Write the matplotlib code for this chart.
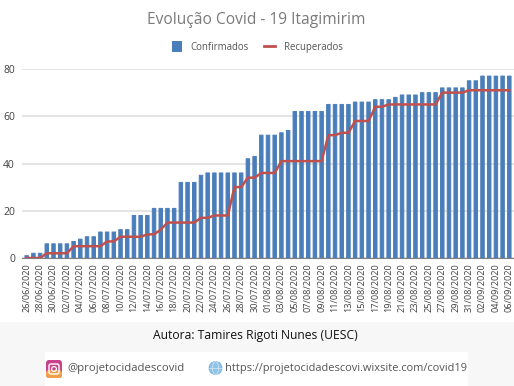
import matplotlib
matplotlib.use("Agg")
import matplotlib.pyplot as plt
from matplotlib.patches import Rectangle, FancyBboxPatch, Circle, Ellipse
from matplotlib.lines import Line2D
from matplotlib.patches import Patch

W, H = 514, 386

tick_labels = ["26/06/2020","28/06/2020","30/06/2020","02/07/2020","04/07/2020","06/07/2020","08/07/2020",
 "10/07/2020","12/07/2020","14/07/2020","16/07/2020","18/07/2020","20/07/2020","22/07/2020","24/07/2020",
 "26/07/2020","28/07/2020","30/07/2020","01/08/2020","03/08/2020","05/08/2020","07/08/2020","09/08/2020",
 "11/08/2020","13/08/2020","15/08/2020","17/08/2020","19/08/2020","21/08/2020","23/08/2020","25/08/2020",
 "27/08/2020","29/08/2020","31/08/2020","02/09/2020","04/09/2020","06/09/2020"]

confirmados = [1,2,2,6,6,6,6,7,8,9,9,11,11,11,12,12,18,18,18,21,21,21,21,
 32,32,32,35,36,36,36,36,36,36,42,43,52,52,52,53,54,62,62,62,62,62,65,65,65,65,
 66,66,66,67,67,67,68,69,69,69,70,70,70,72,72,72,72,75,75,77,77,77,77,77]

recuperados = [0,0,0,2,2,2,2,5,5,5,5,5,7,7,9,9,9,9,10,10,12,15,15,
 15,15,15,17,17,18,18,18,30,30,34,34,36,36,36,41,41,41,41,41,41,41,52,52,53,53,
 58,58,58,64,64,65,65,65,65,65,65,65,65,70,70,70,70,71,71,71,71,71,71,71]

positions = list(range(len(confirmados)))
tick_positions = positions[::2]

def fx(p): return p / W
def fy(p): return 1 - p / H

fig = plt.figure(figsize=(W / 100, H / 100), dpi=100, facecolor="white")
fam = ["Open Sans", "DejaVu Sans"]

# bottom strip and white social box
fig.patches.append(Rectangle((0, 0), 1, fy(322), transform=fig.transFigure, fc="#f7f7f7", ec="none", zorder=-2))
fig.patches.append(Rectangle((fx(45), 0), (468 - 45) / W, (386 - 352) / H, transform=fig.transFigure, fc="#ffffff", ec="none", zorder=-1))

ax = fig.add_axes([fx(22), fy(258), (514 - 22) / W, (258 - 69) / H])
ax.set_facecolor("none")
bars = ax.bar(positions, confirmados, width=0.52, color="#4a7ebb", edgecolor="#4a7ebb", linewidth=0.7,
              zorder=2, label="Confirmados")
for b in bars:
    b.set_joinstyle("round")
    b.set_snap(False)
ax.plot(positions, recuperados, color="#c0504d", lw=1.8, zorder=3, label="Recuperados")
ax.set_xlim(-0.7, 72.7)
ax.set_ylim(0, 80)
ax.set_yticks([0, 20, 40, 60, 80])
ax.set_xticks(tick_positions)
ax.set_xticklabels(tick_labels, rotation=90, fontsize=6.6, color="#404040", family=fam)
ax.tick_params(axis="x", length=0, pad=4)
ax.tick_params(axis="y", length=0, pad=5, labelsize=7.5, labelcolor="#404040")
for t in ax.get_yticklabels():
    t.set_family(fam)
ax.grid(axis="y", color="#dcdcdc", lw=1.1, zorder=0)
ax.set_axisbelow(True)
for s in ["top", "right", "left"]:
    ax.spines[s].set_visible(False)
ax.spines["bottom"].set_color("#7f7f7f")
ax.spines["bottom"].set_linewidth(0.8)

fig.text(fx(256), fy(20), "Evolução Covid - 19 Itagimirim", ha="center", va="center",
         fontsize=11.2, color="#7a7a7a", family=fam)

handles = [Patch(fc="#4a7ebb", ec="none"), Line2D([0], [0], color="#c0504d", lw=2)]
fig.legend(handles, ["Confirmados", "Recuperados"], loc="center", bbox_to_anchor=(fx(257), fy(47)),
           ncol=2, frameon=False, prop={"family": fam, "size": 6.9}, labelcolor="#555555",
           handlelength=1.1, handleheight=1.3, columnspacing=1.6, handletextpad=0.9)

fig.text(fx(255), fy(336), "Autora: Tamires Rigoti Nunes (UESC)", ha="center", va="center",
         fontsize=8.7, color="#111111", family=fam)
fig.text(fx(67), fy(368), "@projetocidadescovid", ha="left", va="center",
         fontsize=8.2, color="#555555", family=fam)
fig.text(fx(225), fy(368), "https://projetocidadescovi.wixsite.com/covid19", ha="left", va="center",
         fontsize=7.9, color="#555555", family=fam)

# icons, drawn in pixel space
ov = fig.add_axes([0, 0, 1, 1], facecolor="none")
ov.axis("off")
ov.add_patch(FancyBboxPatch((46, 360), 16, 18, boxstyle="round,pad=0,rounding_size=3", fc="#c9418a", ec="none"))
ov.add_patch(FancyBboxPatch((46, 370), 16, 8, boxstyle="round,pad=0,rounding_size=3", fc="#f0a04b", ec="none"))
ov.add_patch(FancyBboxPatch((49, 364), 10, 10, boxstyle="round,pad=0,rounding_size=2", fc="none", ec="white", lw=1.0))
ov.add_patch(Circle((54, 369), 2.4, fc="none", ec="white", lw=0.9))
ov.add_patch(Circle((215.5, 368), 6.5, fc="#8fc3e8", ec="#6aa6d2", lw=0.5))
ov.add_patch(Ellipse((215.5, 368), 6, 13, fc="none", ec="#d6ebf7", lw=0.5))
ov.plot([209, 222], [368, 368], color="#d6ebf7", lw=0.5)
ov.set_xlim(0, W)
ov.set_ylim(H, 0)

fig.savefig("out.png", dpi=100, facecolor=fig.get_facecolor())
